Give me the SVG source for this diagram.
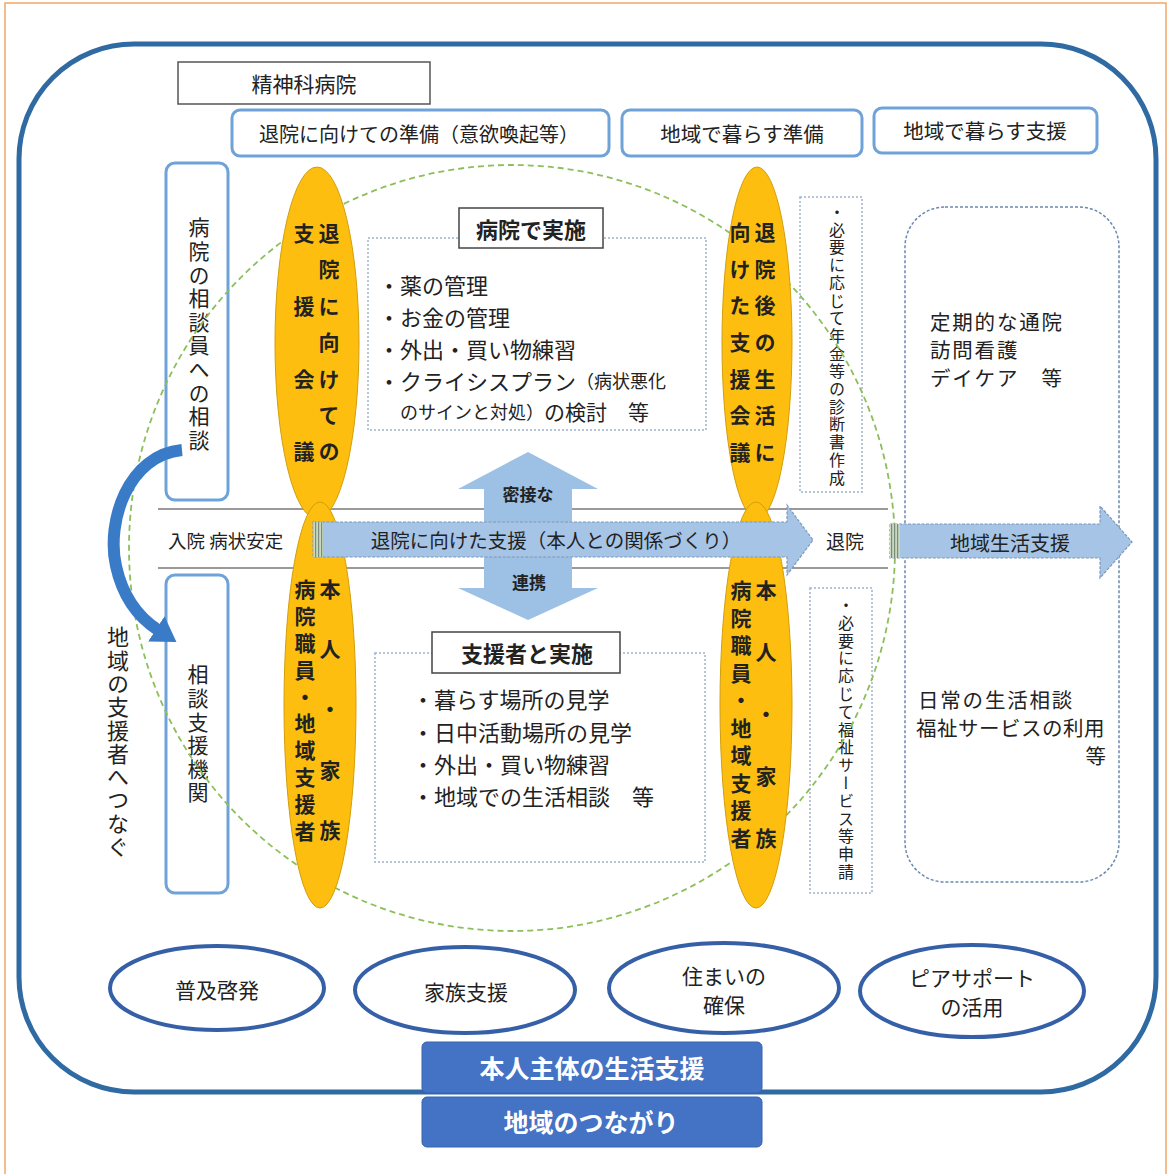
<svg xmlns="http://www.w3.org/2000/svg" width="1171" height="1174" viewBox="0 0 1171 1174">
<style>
text{font-family:"Noto Sans CJK JP","Noto Sans",sans-serif;fill:#222;dominant-baseline:central}
.c{text-anchor:middle}
.b{font-weight:700}
.vt{writing-mode:vertical-rl;text-orientation:upright}
.bluebox{fill:#fff;stroke:#6FA3D8;stroke-width:3}
.dot{fill:none;stroke:#9FB2CC;stroke-width:1.5;stroke-dasharray:2 2}
.title{fill:#fff;stroke:#444;stroke-width:1.5}
.oval{fill:#FDBE10;stroke:#D29E0A;stroke-width:1}
.bell{fill:#fff;stroke:#3560A8;stroke-width:4}
.bar{fill:#4472C4;stroke:#3A62AE;stroke-width:1}
.arrowfill{fill:#A6C4E6;stroke:#7E98B8;stroke-width:1.2;stroke-dasharray:3 1.5}
.rt{font-size:20.5px;letter-spacing:1.8px}
</style>
<defs>
<pattern id="stripes" width="3" height="4" patternUnits="userSpaceOnUse">
<rect width="3" height="4" fill="#C9D8C0"/>
<rect width="1.2" height="4" fill="#7C8C7A"/>
</pattern>
<marker id="head" markerUnits="userSpaceOnUse" markerWidth="24" markerHeight="30" refX="2" refY="15" orient="auto">
<path d="M0,0 L24,15 L0,30 z" fill="#3A7BC8"/>
</marker>
</defs>

<rect x="5" y="3" width="1161" height="1185" fill="none" stroke="#F2A86A" stroke-width="1.5"/>
<rect id="frame" x="19" y="44" width="1137" height="1048" rx="115" ry="115" fill="none" stroke="#2F6AA3" stroke-width="5"/>

<g id="hospital"><rect x="178" y="62" width="252" height="42" fill="#fff" stroke="#555" stroke-width="1.5"/><text class="c" x="304" y="83" font-size="21">精神科病院</text></g>
<g id="prep1"><rect class="bluebox" x="232" y="110" width="377" height="46" rx="8"/><text class="c" x="419" y="133" font-size="20">退院に向けての準備（意欲喚起等）</text></g>
<g id="prep2"><rect class="bluebox" x="622" y="110" width="240" height="46" rx="8"/><text class="c" x="742" y="133" font-size="20.5">地域で暮らす準備</text></g>
<g id="support"><rect class="bluebox" x="874" y="108" width="223" height="45" rx="8"/><text class="c" x="985" y="130" font-size="20.5">地域で暮らす支援</text></g>

<g id="consult-hosp"><rect x="166" y="163" width="62" height="337" rx="9" fill="none" stroke="#6FA3D8" stroke-width="3"/><text class="vt" x="199" y="217" font-size="21" letter-spacing="2.6">病院の相談員への相談</text></g>
<g id="consult-org"><rect x="166" y="575" width="62" height="318" rx="9" fill="none" stroke="#6FA3D8" stroke-width="3"/><text class="vt" x="198" y="664" font-size="21" letter-spacing="2.6">相談支援機関</text></g>

<g id="hosp-list"><rect class="dot" x="368" y="238" width="338" height="192"/></g>
<g id="sup-list"><rect class="dot" x="375" y="653" width="330" height="209"/></g>
<g id="pension"><rect class="dot" x="800" y="197" width="62" height="295"/><text class="vt" x="837" y="204" font-size="16" letter-spacing="1.7" fill="#333">・必要に応じて年金等の診断書作成</text></g>
<g id="welfare"><rect class="dot" x="810" y="588" width="62" height="305"/><text class="vt" x="846" y="597" font-size="16" letter-spacing="1.8" fill="#333">・必要に応じて福祉サービス等申請</text></g>
<g id="community"><rect x="905" y="207" width="214" height="675" rx="40" fill="none" stroke="#6A88B0" stroke-width="1.5" stroke-dasharray="3 2"/>
<text class="rt" x="930" y="321">定期的な通院</text>
<text class="rt" x="930" y="349">訪問看護</text>
<text class="rt" x="930" y="377">デイケア　等</text>
<text class="rt" x="918" y="699">日常の生活相談</text>
<text x="916" y="727" font-size="20.5" letter-spacing="0.5">福祉サービスの利用</text>
<text x="1106" y="755" font-size="20.5" text-anchor="end">等</text></g>

<g id="timeline-lines" stroke="#9A9A9A" stroke-width="2"><line x1="158" y1="509" x2="888" y2="509"/><line x1="158" y1="568" x2="888" y2="568"/></g>

<circle id="circle" cx="512" cy="548" r="383" fill="none" stroke="#8CBF5A" stroke-width="1.8" stroke-dasharray="6 4"/>

<g id="connectors">
<polygon points="528,452 598,489 572,489 572,588 598,588 528,620 458,588 484,588 484,489 458,489" fill="#9DC0E5"/>
<path d="M182 450 C128 455,106 522,116 566 C123 598,138 617,158 630" fill="none" stroke="#3A7BC8" stroke-width="12" marker-end="url(#head)"/>
</g>
<text class="c b" x="528" y="493" font-size="17">密接な</text>
<text class="c b" x="529" y="581" font-size="17">連携</text>

<g id="meet1">
<ellipse class="oval" cx="317" cy="343" rx="42" ry="176"/>
<text class="vt b" x="329" y="222.5" font-size="21" letter-spacing="15.4">退院に向けての</text>
<text class="vt b" x="304" y="222.5" font-size="21" letter-spacing="51.8">支援会議</text>
</g>
<g id="team1">
<ellipse class="oval" cx="320" cy="705" rx="36" ry="203"/>
<text class="vt b" x="330" y="578.5" font-size="21" letter-spacing="39.2">本人・家族</text>
<text class="vt b" x="305" y="578.5" font-size="21" letter-spacing="5.9">病院職員・地域支援者</text>
</g>
<g id="meet2">
<ellipse class="oval" cx="757" cy="343" rx="35" ry="176"/>
<text class="vt b" x="765" y="221.5" font-size="21" letter-spacing="15.7">退院後の生活に</text>
<text class="vt b" x="740" y="221.5" font-size="21" letter-spacing="15.7">向けた支援会議</text>
</g>
<g id="team2">
<ellipse class="oval" cx="756" cy="705" rx="36" ry="203"/>
<text class="vt b" x="766" y="580" font-size="21" letter-spacing="41">本人・家族</text>
<text class="vt b" x="741" y="580" font-size="21" letter-spacing="6.5">病院職員・地域支援者</text>
</g>

<g id="main-arrow">
<polygon class="arrowfill" points="313,522 787,522 787,505 813,540 787,575 787,557 313,557"/>
<rect x="313" y="522" width="10" height="35" fill="url(#stripes)"/>
<text class="c" x="556" y="539" font-size="19.5">退院に向けた支援（本人との関係づくり）</text>
</g>
<g id="life-arrow">
<polygon class="arrowfill" points="890,524 1100,524 1100,506 1132,542 1100,578 1100,558 890,558"/>
<rect x="890" y="524" width="10" height="34" fill="url(#stripes)"/>
<text class="c" x="1010" y="542" font-size="20">地域生活支援</text>
</g>
<text x="168" y="540" font-size="18.5">入院 病状安定</text>
<text x="826" y="540" font-size="19">退院</text>

<g id="hosp-do">
<rect class="title" x="459" y="208" width="144" height="40"/>
<text class="c b" x="531" y="228" font-size="22">病院で実施</text>
<text x="378" y="284" font-size="22">・薬の管理</text>
<text x="378" y="316" font-size="22">・お金の管理</text>
<text x="378" y="348" font-size="22">・外出・買い物練習</text>
<text x="378" y="380" font-size="22">・クライシスプラン<tspan font-size="18">（病状悪化</tspan></text>
<text x="400" y="411" font-size="18">のサインと対処）<tspan font-size="21">の検討　等</tspan></text>
</g>
<g id="sup-do">
<rect class="title" x="432" y="632" width="188" height="41"/>
<text class="c b" x="527" y="652" font-size="22">支援者と実施</text>
<text x="412" y="698" font-size="22">・暮らす場所の見学</text>
<text x="412" y="731" font-size="22">・日中活動場所の見学</text>
<text x="412" y="763" font-size="22">・外出・買い物練習</text>
<text x="412" y="795" font-size="22">・地域での生活相談　等</text>
</g>

<text class="vt" x="118" y="626" font-size="22" letter-spacing="1.3">地域の支援者へつなぐ</text>

<g id="enlighten"><ellipse class="bell" cx="217" cy="988" rx="107" ry="42"/><text class="c" x="217" y="989" font-size="21">普及啓発</text></g>
<g id="family"><ellipse class="bell" cx="465" cy="990" rx="110" ry="43"/><text class="c" x="466" y="991" font-size="21">家族支援</text></g>
<g id="housing"><ellipse class="bell" cx="724" cy="988" rx="115" ry="45"/><text class="c" x="724" y="975" font-size="21">住まいの</text><text class="c" x="724" y="1004" font-size="21">確保</text></g>
<g id="peer"><ellipse class="bell" cx="972" cy="991" rx="112" ry="46"/><text class="c" x="972" y="977" font-size="21">ピアサポート</text><text class="c" x="972" y="1006" font-size="21">の活用</text></g>

<g id="self"><rect class="bar" x="422" y="1042" width="340" height="51" rx="5"/><text class="c b" x="592" y="1067" font-size="25" style="fill:#fff">本人主体の生活支援</text></g>
<g id="ties"><rect class="bar" x="422" y="1097" width="340" height="50" rx="5"/><text class="c b" x="591" y="1121" font-size="25" style="fill:#fff">地域のつながり</text></g>
</svg>
